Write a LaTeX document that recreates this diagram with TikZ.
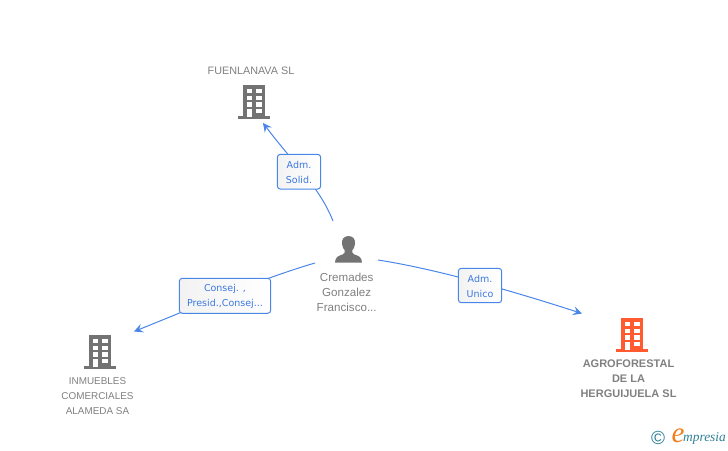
\documentclass[tikz,border=0pt]{standalone}
\usepackage{fontspec}
\setmainfont{Liberation Sans}
\newfontfamily\lblfont{DejaVu Sans}
\newfontfamily\logofont{Liberation Serif}
\usetikzlibrary{arrows.meta}
\definecolor{icongray}{HTML}{737373}
\definecolor{textgray}{HTML}{808080}
\definecolor{linkblue}{HTML}{4A86E8}
\definecolor{lbltext}{HTML}{3B78E0}
\definecolor{orangeb}{HTML}{FF5A30}
\definecolor{logoteal}{HTML}{2F7F95}
\definecolor{logoorange}{HTML}{EE7F1A}
\newcommand{\lblstrut}{\rule{0pt}{9pt}}
\tikzset{
  x=1pt,y=-1pt,
  edge/.style={draw=linkblue,line width=1pt,-{Stealth[length=9pt,width=9pt,inset=3.5pt]}},
  lbl/.style={draw=linkblue,line width=1pt,rounded corners=3pt,left color=white!95!black,right color=white,
    inner sep=0pt,align=center,font=\lblfont\fontsize{9.5}{15}\selectfont,text=lbltext,anchor=center},
  captext/.style={align=center,text=textgray,font=\fontsize{10.8}{15}\selectfont,inner sep=0pt},
  iconbox/.style={minimum width=32pt,minimum height=33pt,inner sep=0pt,draw=none},
  pics/building/.style={code={
    \fill[#1] (-11.3,0) rectangle (11.3,31);
    \fill[#1] (-16,31) rectangle (16,33.5);
    \foreach \yy in {4,10.7,17.3}{
      \fill[white] (-7.3,\yy) rectangle (-1.7,\yy+4.4);
      \fill[white] (2,\yy) rectangle (7.7,\yy+4.4);
    }
    \fill[white] (-6.6,24) rectangle (-2.2,32);
    \fill[white] (2,24) rectangle (7.7,28.4);
  }}
}
\begin{document}
\begin{tikzpicture}
\useasboundingbox (0,0) rectangle (728,450);
% buildings
\pic at (254,85) {building=icongray};
\pic at (100,335) {building=icongray};
\pic at (632,318) {building=orangeb};
\node[iconbox] (fuen) at (254,101.5) {};
\node[iconbox] (inm) at (100,351.5) {};
\node[iconbox] (agro) at (632,334.5) {};
% person
\node[iconbox,minimum width=28pt,minimum height=27pt] (pers) at (348.5,249.5) {};
\fill[icongray] (348.5,236) .. controls (343,236) and (341.5,240.5) .. (342,244) .. controls (342.3,247) and (343.5,249) .. (344.8,250.5)
  .. controls (345,252.5) and (344.5,253.5) .. (342.5,254.5) .. controls (338,256) and (335.3,257) .. (335,262.7)
  -- (362,262.7) .. controls (361.7,257) and (359,256) .. (354.5,254.5) .. controls (352.5,253.5) and (352,252.5) .. (352.2,250.5)
  .. controls (353.5,249) and (354.7,247) .. (355,244) .. controls (355.5,240.5) and (354,236) .. (348.5,236) -- cycle;
% free ends
\coordinate (s1) at (333,221);
\coordinate (e1) at (263,123);
\coordinate (s2) at (315,263);
\coordinate (e2) at (134,331.5);
\coordinate (s3) at (378,260);
\coordinate (e3) at (582,313.5);
% connectors
\path[edge] (s1) .. controls (320,188) and (295,165) .. (e1);
\path[edge] (s2) .. controls (260,279) and (190,309) .. (e2);
\path[edge] (s3) .. controls (430,268) and (500,287) .. (e3);
% labels
\node[lbl,minimum width=43.4pt,minimum height=34.7pt] (l1) at (299,171.7) {\lblstrut Adm.\\Solid.};
\node[lbl,minimum width=91.4pt,minimum height=35pt] (l2) at (225,295.8) {\lblstrut Consej. ,\\Presid.,Consej...};
\node[lbl,minimum width=43.4pt,minimum height=34.4pt] (l3) at (480,285.5) {\lblstrut Adm.\\Unico};
% captions
\node[captext] (tfuen) at (251,71) {FUENLANAVA SL};
\node[captext,font=\fontsize{9.9}{15}\selectfont] (tinm) at (97.5,396) {INMUEBLES\\COMERCIALES\\ALAMEDA SA};
\node[captext,font=\bfseries\fontsize{11}{15}\selectfont] (tagro) at (628.5,378.5) {AGROFORESTAL\\DE LA\\HERGUIJUELA SL};
\node[captext,font=\fontsize{11.6}{15}\selectfont] (tpers) at (346.7,292) {Cremades\\Gonzalez\\Francisco...};
% logo
\node[inner sep=0pt,text=logoteal,font=\fontsize{19}{19}\selectfont] (copy) at (658,438) {©};
\node[inner sep=0pt,text=logoorange,font=\logofont\itshape\fontsize{29}{29}\selectfont] (loge) at (678,436) {e};
\node[inner sep=0pt,anchor=west,text=logoteal,font=\logofont\itshape\fontsize{13.4}{13}\selectfont] (logt) at (683,438.5) {mpresia};
\end{tikzpicture}
\end{document}
